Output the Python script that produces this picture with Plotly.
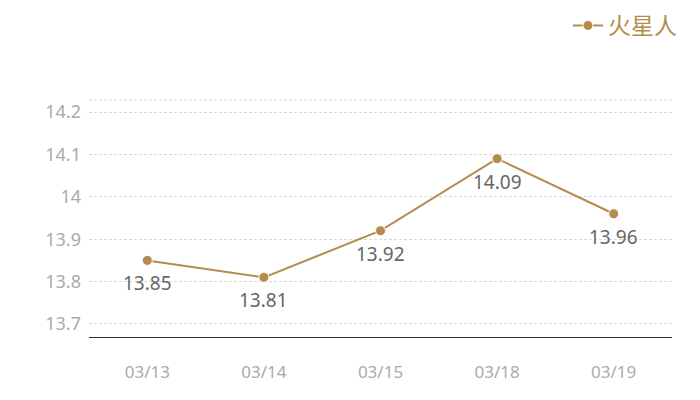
import plotly.graph_objects as go

dates = ["03/13", "03/14", "03/15", "03/18", "03/19"]
values = [13.85, 13.81, 13.92, 14.09, 13.96]
labels = ["13.85", "13.81", "13.92", "14.09", "13.96"]
series_name = "火星人"
y_ticks = [13.7, 13.8, 13.9, 14.0, 14.1, 14.2]
y_tick_text = ["13.7", "13.8", "13.9", "14", "14.1", "14.2"]

gold = "#B48C4E"
num_font = "Noto Sans, Open Sans, sans-serif"
cjk_font = "Noto Sans CJK SC, Noto Sans, sans-serif"

fig = go.Figure()
fig.add_trace(go.Scatter(
    x=list(range(len(dates))), y=values, name=series_name,
    mode="lines+markers",
    line=dict(color=gold, width=2),
    marker=dict(color=gold, size=10, line=dict(color="white", width=1)),
))

for i, (v, t) in enumerate(zip(values, labels)):
    fig.add_annotation(x=i, y=v, text=t, showarrow=False, yshift=-23,
                       font=dict(color="#666666", size=19, family=num_font))

fig.add_shape(type="line", xref="paper", yref="paper", x0=0, x1=1, y0=1, y1=1,
              line=dict(color="#d9d9d9", width=1, dash="3px,2px"), layer="below")

fig.update_layout(
    width=692, height=392,
    margin=dict(l=81, r=28, t=92, b=63, autoexpand=False),
    paper_bgcolor="white", plot_bgcolor="white",
    font=dict(family=num_font),
    showlegend=True,
    legend=dict(x=1.017, xanchor="right", y=1.405, yanchor="top",
                font=dict(color=gold, size=23, family=cjk_font),
                bgcolor="rgba(0,0,0,0)", itemwidth=30),
    xaxis=dict(
        range=[-0.5, 4.5], tickmode="array", tickvals=list(range(len(dates))), ticktext=dates,
        showgrid=False, zeroline=False, showline=True, linecolor="#333333", linewidth=1,
        ticks="", ticklabelstandoff=20,
        tickfont=dict(color="#aaaaaa", size=17, family=num_font),
    ),
    yaxis=dict(
        range=[13.6693, 14.2283], tickmode="array", tickvals=y_ticks, ticktext=y_tick_text,
        showgrid=True, gridcolor="#d9d9d9", griddash="3px,2px", gridwidth=1,
        zeroline=False, showline=False, ticks="", ticklabelstandoff=7,
        tickfont=dict(color="#aaaaaa", size=18, family=num_font),
    ),
)

fig.write_html("out.html")
